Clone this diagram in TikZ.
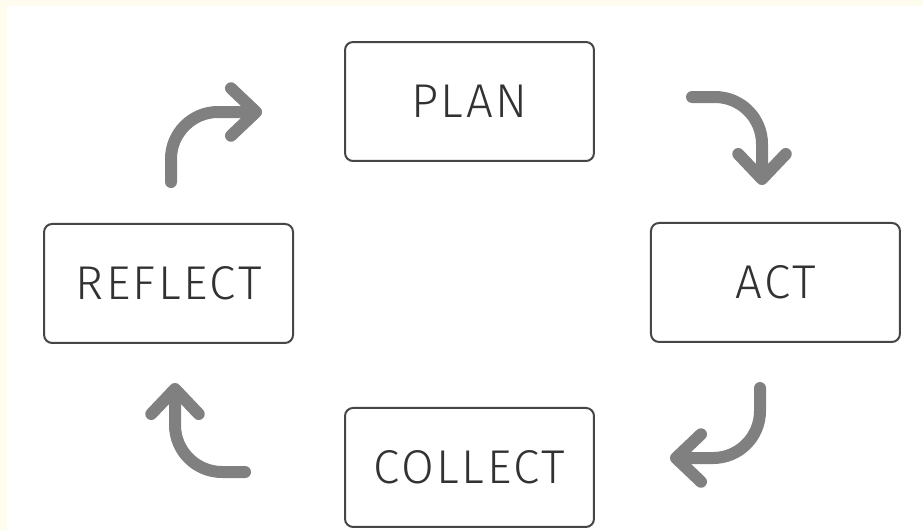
\documentclass[tikz,border=0pt]{standalone}
\usepackage{fontspec}
\setmainfont{Fira Sans Light}[LetterSpace=5.5]
\usetikzlibrary{positioning,arrows.meta}
\newcommand{\CycleUnit}{0.02}
\definecolor{cyclegray}{RGB}{128,128,128}
\definecolor{cycleline}{RGB}{70,70,70}
\definecolor{cycletext}{RGB}{50,50,50}
\definecolor{cyclecream}{RGB}{254,252,238}

\begin{document}
\begin{tikzpicture}[x=\CycleUnit cm, y=-\CycleUnit cm,
		cyclebox/.style={draw=cycleline, line width=0.04cm, rounded corners=0.16cm,
			minimum width=4.98cm, minimum height=2.38cm, inner sep=0pt,
			font=\fontsize{27}{31}\selectfont, text=cycletext},
		cyclearrow/.style={draw=cyclegray, line width=0.24cm, line cap=round, rounded corners=0.94cm,
			-{Straight Barb[round, length=0.5cm, width=0.95cm]}}]
		\useasboundingbox (0,0) rectangle (923,531);
		\fill[cyclecream] (0,0) rectangle (923,531);
		\fill[white] (7,6) rectangle (923,531);
		% the four boxes
		\node[cyclebox] (b1) at (469.5,101.5) {PLAN};
		\node[cyclebox, below right=60*\CycleUnit cm and 55*\CycleUnit cm of b1] (b2) {ACT};
		\node[cyclebox, below left=64*\CycleUnit cm and 55*\CycleUnit cm of b2] (b3) {COLLECT};
		\node[cyclebox, above left=63*\CycleUnit cm and 50*\CycleUnit cm of b3] (b4) {REFLECT};
		% arrow ends
		\coordinate (a1) at (171,182);
		\coordinate (a2) at (262,112);
		\coordinate (c1) at (692,97);
		\coordinate (c2) at (762,185);
		\coordinate (d1) at (760,388);
		\coordinate (d2) at (670,458);
		\coordinate (e1) at (245,472);
		\coordinate (e2) at (175,383);
		\draw[cyclearrow] (a1) |- (a2);
		\draw[cyclearrow] (c1) -| (c2);
		\draw[cyclearrow] (d1) |- (d2);
		\draw[cyclearrow] (e1) -| (e2);
	\end{tikzpicture}
\end{document}
